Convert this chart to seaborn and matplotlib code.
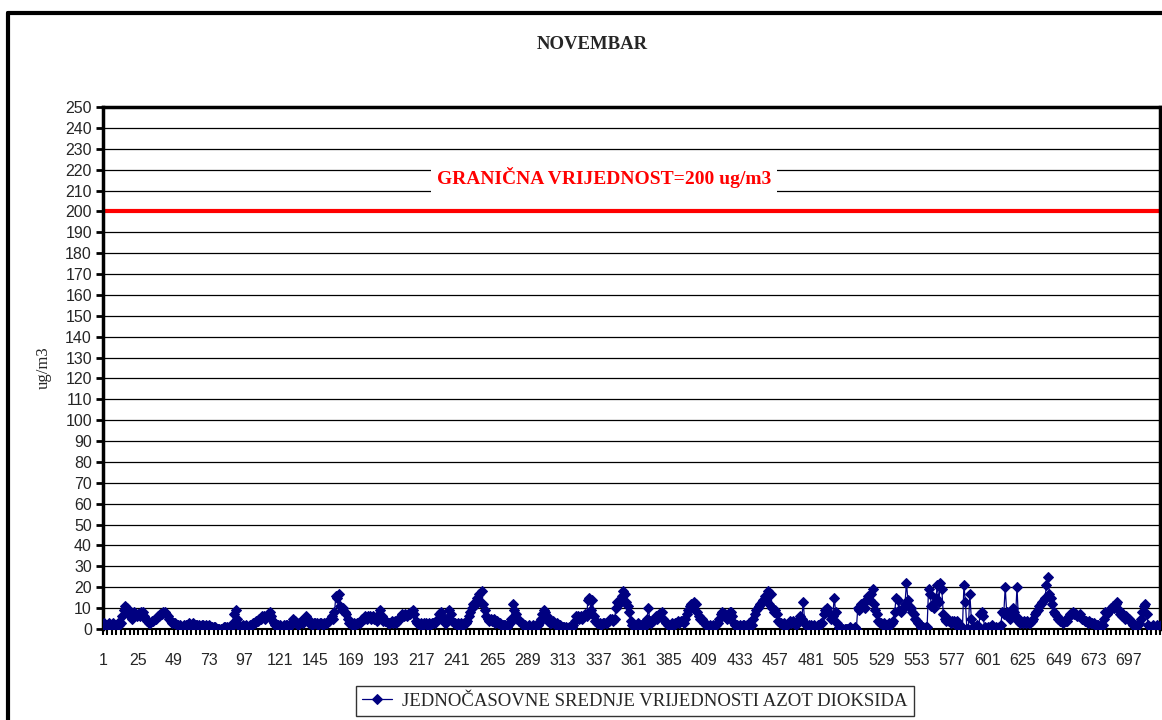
"""
NO2 - jednočasovne srednje vrijednosti, novembar
"""
import matplotlib
import matplotlib.pyplot as plt
import numpy as np
import pandas as pd
import seaborn as sns

matplotlib.use("Agg")

# satne vrijednosti po danima (24 sata)
d01 = [2, 3, 2, 2, 3, 2, 2, 3, 2, 2, 3, 2, 3, 6, 9, 11, 10, 8, 6, 7, 5, 8, 7, 6]
d02 = [7, 6, 8, 8, 6, 5, 4, 3, 3, 4, 4, 5, 5, 6, 6, 7, 7, 8, 8, 7, 6, 5, 4, 3]
d03 = [3, 3, 2, 2, 2, 1, 1, 2, 2, 2, 3, 2, 2, 3, 2, 2, 2, 2, 1, 2, 2, 1, 2, 1]
d04 = [2, 1, 1, 1, 1, 0, 0, 0, 0, 0, 1, 1, 1, 0, 1, 1, 3, 7, 9, 5, 2, 1, 1, 2]
d05 = [1, 2, 1, 1, 2, 2, 3, 3, 4, 4, 5, 5, 6, 6, 5, 6, 7, 8, 6, 4, 3, 2, 2, 2]
d06 = [2, 1, 1, 2, 2, 2, 1, 2, 3, 5, 4, 3, 2, 3, 4, 4, 3, 5, 6, 5, 3, 3, 2, 3]
d07 = [3, 3, 2, 3, 3, 2, 3, 3, 3, 4, 5, 6, 5, 8, 16, 15, 17, 11, 9, 10, 8, 7, 5, 3]
d08 = [3, 2, 3, 2, 3, 3, 3, 4, 5, 5, 6, 5, 6, 6, 5, 6, 5, 5, 4, 7, 9, 6, 4, 4]
d09 = [4, 3, 3, 3, 4, 3, 4, 3, 4, 5, 6, 7, 6, 7, 6, 7, 7, 8, 9, 7, 4, 3, 3, 2]
d10 = [3, 2, 3, 3, 2, 3, 2, 3, 3, 3, 4, 5, 7, 8, 6, 4, 3, 3, 5, 9, 7, 4, 3, 3]
d11 = [2, 3, 2, 3, 2, 3, 3, 4, 6, 8, 10, 12, 11, 13, 15, 17, 13, 18, 12, 9, 6, 5, 4, 5]
d12 = [4, 5, 3, 4, 3, 3, 2, 2, 2, 2, 1, 2, 3, 5, 12, 9, 7, 5, 4, 4, 3, 2, 2, 1]
d13 = [1, 2, 1, 1, 2, 1, 2, 2, 3, 5, 7, 9, 8, 6, 4, 3, 3, 4, 3, 2, 3, 2, 2, 1]
d14 = [1, 1, 1, 0, 1, 1, 1, 2, 4, 6, 6, 5, 6, 5, 6, 7, 6, 14, 15, 9, 14, 6, 4, 3]
d15 = [3, 3, 2, 3, 3, 3, 3, 4, 5, 5, 4, 5, 10, 13, 12, 13, 16, 18, 17, 13, 11, 8, 4, 2]
d16 = [2, 1, 2, 3, 1, 2, 2, 3, 2, 5, 10, 4, 3, 4, 5, 6, 5, 7, 6, 8, 5, 4, 3, 2]
d17 = [2, 2, 3, 2, 3, 3, 4, 3, 4, 4, 3, 5, 7, 9, 11, 12, 10, 13, 12, 8, 6, 5, 5, 4]
d18 = [3, 2, 2, 1, 2, 1, 2, 2, 2, 3, 5, 7, 8, 6, 7, 5, 6, 8, 8, 6, 3, 2, 2, 1]
d19 = [2, 1, 2, 2, 1, 2, 3, 2, 2, 5, 7, 9, 10, 11, 12, 13, 14, 16, 15, 18, 12, 17, 10, 8]
d20 = [9, 7, 4, 3, 3, 2, 3, 2, 2, 3, 4, 3, 4, 3, 2, 3, 5, 6, 5, 13, 3, 2, 1, 2]
d21 = [2, 1, 2, 1, 1, 2, 2, 3, 3, 7, 9, 10, 8, 7, 5, 6, 15, 8, 3, 1, 0, 0, 0, 0]
d22 = [0, 0, 0, 1, 0, 0, 1, 0, 10, 9, 12, 11, 13, 10, 14, 16, 14, 17, 19, 12, 9, 7, 4, 3]
d23 = [3, 2, 3, 2, 2, 3, 2, 3, 4, 8, 15, 14, 9, 8, 9, 10, 12, 22, 14, 11, 10, 8, 7, 5]
d24 = [4, 3, 2, 1, 1, 0, 1, 1, 19, 17, 11, 12, 10, 15, 21, 13, 22, 19, 7, 5, 4, 5, 4, 3]
d25 = [4, 4, 3, 4, 1, 0, 1, 1, 21, 13, 0, 0, 17, 5, 1, 1, 1, 2, 1, 7, 8, 6, 1, 0]
d26 = [1, 0, 1, 2, 1, 0, 1, 0, 1, 2, 8, 7, 20, 8, 6, 5, 7, 10, 8, 6, 20, 4, 3, 4]
d27 = [3, 4, 3, 4, 3, 3, 4, 5, 7, 8, 9, 11, 12, 13, 14, 15, 21, 25, 17, 15, 12, 8, 7, 6]
d28 = [5, 4, 4, 3, 4, 4, 4, 6, 7, 7, 8, 7, 7, 6, 6, 7, 5, 5, 4, 4, 3, 4, 3, 3]
d29 = [3, 2, 2, 2, 1, 2, 2, 5, 8, 7, 8, 9, 10, 11, 10, 12, 13, 9, 7, 6, 7, 5, 6, 5]
d30 = [5, 4, 3, 2, 2, 1, 2, 3, 5, 8, 11, 12, 7, 2, 1, 1, 2, 1, 1, 2, 1, 1, 2, 1]

days = [d01, d02, d03, d04, d05, d06, d07, d08, d09, d10,
        d11, d12, d13, d14, d15, d16, d17, d18, d19, d20,
        d21, d22, d23, d24, d25, d26, d27, d28, d29, d30]

granica = 200
y_ticks = list(range(0, 251, 10))
x_labels = list(range(1, 720, 24))

naslov = "NOVEMBAR"
y_naziv = "ug/m3"
legenda = "JEDNOČASOVNE SREDNJE VRIJEDNOSTI AZOT DIOKSIDA"
granica_tekst = "GRANIČNA VRIJEDNOST=200 ug/m3"

# tabela za seaborn
vrijednosti = np.concatenate(days)
df = pd.DataFrame({"sat": np.arange(1, len(vrijednosti) + 1), "no2": vrijednosti})

sns.set_style("white")
plt.rcParams["font.family"] = ["Liberation Serif", "DejaVu Serif"]

fig = plt.figure(figsize=(11.62, 7.2), dpi=100)
ax = fig.add_axes([103 / 1162, 91 / 720, 1057 / 1162, 522 / 720])

# horizontalne linije mreže
for y in y_ticks[1:]:
    ax.axhline(y, color="black", linewidth=0.9, zorder=1)

# granična vrijednost
ax.axhline(granica, color="#ff0000", linewidth=3, zorder=2)
ax.text(0.474, 216, granica_tekst, color="#ff0000", fontsize=14, fontweight="bold",
        ha="center", va="center", zorder=3, transform=ax.get_yaxis_transform(),
        bbox=dict(facecolor="white", edgecolor="none", pad=4))

sns.lineplot(data=df, x="sat", y="no2", ax=ax, color="#000080", linewidth=0.9,
             marker="D", markersize=5, markeredgecolor="#000080",
             label=legenda, zorder=4)

ax.set_xlim(1, 1 + 1057 / 1.475)
ax.set_ylim(0, 250)
ax.set_yticks(y_ticks)
ax.set_yticklabels([str(t) for t in y_ticks], fontfamily="Liberation Sans", fontsize=11.5)
ax.set_xticks(x_labels)
ax.set_xticklabels([str(t) for t in x_labels], fontfamily="Liberation Sans", fontsize=11.5)
ax.set_xticks(range(1, 720, 3), minor=True)
ax.tick_params(axis="y", direction="out", length=5, width=2, color="black", pad=3, left=True)
ax.tick_params(axis="x", which="both", direction="out", length=4, width=1.5, color="black",
               bottom=True, pad=13)
ax.set_xlabel("")
ax.set_ylabel(y_naziv, fontsize=12, labelpad=10)
ax.set_title(naslov, fontsize=13.5, fontweight="bold", x=0.4626, pad=42)

for side in ["top", "left", "right"]:
    ax.spines[side].set_linewidth(2.5)
    ax.spines[side].set_color("black")
ax.spines["bottom"].set_linewidth(1.5)
ax.spines["bottom"].set_color("black")

leg = ax.legend(loc="upper center", bbox_to_anchor=(0.503, -0.109), frameon=True,
                fancybox=False, fontsize=13.5, handlelength=1.6, handletextpad=0.5,
                borderpad=0.35, borderaxespad=0)
leg.get_frame().set_edgecolor("black")
leg.get_frame().set_linewidth(1)

# okvir oko cijelog grafika
fig.add_artist(plt.Line2D([8 / 1162, 8 / 1162], [0, 1 - 13 / 720], color="black",
                          linewidth=3, transform=fig.transFigure))
fig.add_artist(plt.Line2D([8 / 1162, 1], [1 - 13 / 720, 1 - 13 / 720], color="black",
                          linewidth=3, transform=fig.transFigure))

fig.savefig("out.png", dpi=100)
